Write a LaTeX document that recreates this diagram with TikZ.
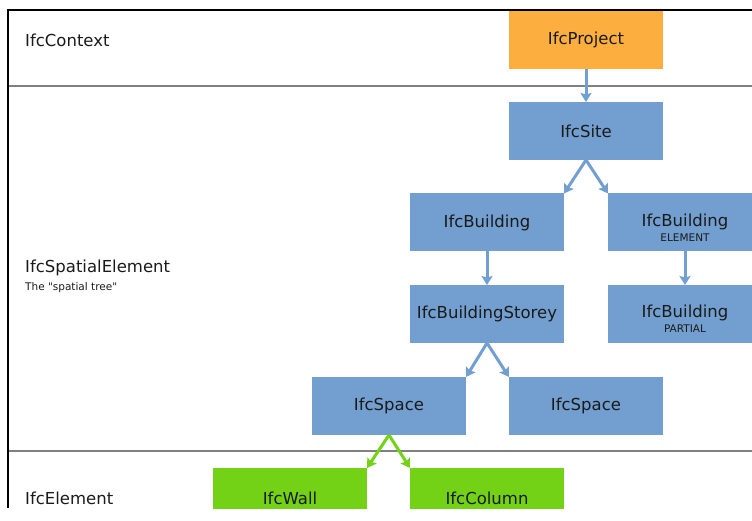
\documentclass[tikz,border=0pt]{standalone}
\usepackage{fontspec}
\setmainfont[Ligatures=TeXOff]{DejaVu Sans}
\usetikzlibrary{arrows.meta}
\definecolor{boxblue}{HTML}{729FCF}
\definecolor{boxgreen}{HTML}{73D216}
\definecolor{boxorange}{HTML}{FCAF3E}
\definecolor{txt}{HTML}{1A1A1A}
\definecolor{sepgray}{HTML}{808080}
\tikzset{
  ifcbox/.style={minimum width=154pt, minimum height=58pt, inner sep=0pt, outer sep=0pt, text=txt, font=\fontsize{16.5}{19}\selectfont},
  bluebox/.style={ifcbox, fill=boxblue},
  greenbox/.style={ifcbox, fill=boxgreen},
  orangebox/.style={ifcbox, fill=boxorange},
  subtxt/.style={text=txt, inner sep=0pt, font=\fontsize{10.5}{12}\selectfont},
  maintxt/.style={text=txt, inner sep=0pt, font=\fontsize{16.5}{19}\selectfont},
  layerlabel/.style={anchor=west, inner sep=0pt, text=txt, font=\fontsize{16.5}{19}\selectfont},
  layersub/.style={anchor=west, inner sep=0pt, text=txt, font=\fontsize{10.5}{12}\selectfont},
  bluearrow/.style={draw=boxblue, line width=3pt, -{Stealth[length=9pt,width=11pt,inset=1.5pt]}},
  greenarrow/.style={draw=boxgreen, line width=3pt, -{Stealth[length=9pt,width=11pt,inset=1.5pt]}},
  sepline/.style={draw=sepgray, line width=1.6pt},
  frameline/.style={draw=black, line width=2.5pt}
}
\begin{document}
\begin{tikzpicture}[x=1pt,y=-1pt]
\useasboundingbox (0,0) rectangle (752,521);
\begin{scope}
\clip (0,0) rectangle (752,508);
% layer separators and frame
\coordinate (tl) at (8,10);
\coordinate (tr) at (752,10);
\coordinate (bl) at (8,508);
\coordinate (s1l) at (8,86);
\coordinate (s1r) at (752,86);
\coordinate (s2l) at (8,451);
\coordinate (s2r) at (752,451);
\draw[sepline] (s1l) -- (s1r);
\draw[sepline] (s2l) -- (s2r);
% boxes
\node[orangebox] (proj) at (586,40) {IfcProject};
\node[bluebox] (site) at (586,131) {IfcSite};
\node[bluebox] (bldg) at (487,222.5) {IfcBuilding};
\node[bluebox] (elem) at (685,222.5) {};
\node[maintxt] (elemt) at (685,221.5) {IfcBuilding};
\node[subtxt] (elems) at (685,237.5) {ELEMENT};
\node[bluebox] (storey) at (487,314) {IfcBuildingStorey};
\node[bluebox] (part) at (685,314) {};
\node[maintxt] (partt) at (685,313) {IfcBuilding};
\node[subtxt] (parts) at (685,329) {PARTIAL};
\node[bluebox] (spl) at (389,406) {IfcSpace};
\node[bluebox] (spr) at (586,406) {IfcSpace};
\node[greenbox, minimum height=80pt] (wall) at (290,508) {};
\node[maintxt] (wallt) at (290,498) {IfcWall};
\node[greenbox, minimum height=80pt] (col) at (487,508) {};
\node[maintxt] (colt) at (487,498) {IfcColumn};
% arrows
\draw[bluearrow] (proj.south) -- (site.north);
\draw[bluearrow] (site.south) -- (bldg.north east);
\draw[bluearrow] (site.south) -- (elem.north west);
\draw[bluearrow] (bldg.south) -- (storey.north);
\draw[bluearrow] (elem.south) -- (part.north);
\draw[bluearrow] (storey.south) -- (spl.north east);
\draw[bluearrow] (storey.south) -- (spr.north west);
\draw[greenarrow] (spl.south) -- (wall.north east);
\draw[greenarrow] (spl.south) -- (col.north west);
% frame
\draw[frameline] (bl) -- (tl) -- (tr);
\end{scope}
% layer labels
\node[layerlabel] (ctx) at (25,40) {IfcContext};
\node[layerlabel] (spat) at (25,268) {IfcSpatialElement};
\node[layersub] (spatsub) at (25,288) {The "spatial tree"};
\node[layerlabel] (elt) at (25,498) {IfcElement};
\end{tikzpicture}
\end{document}
